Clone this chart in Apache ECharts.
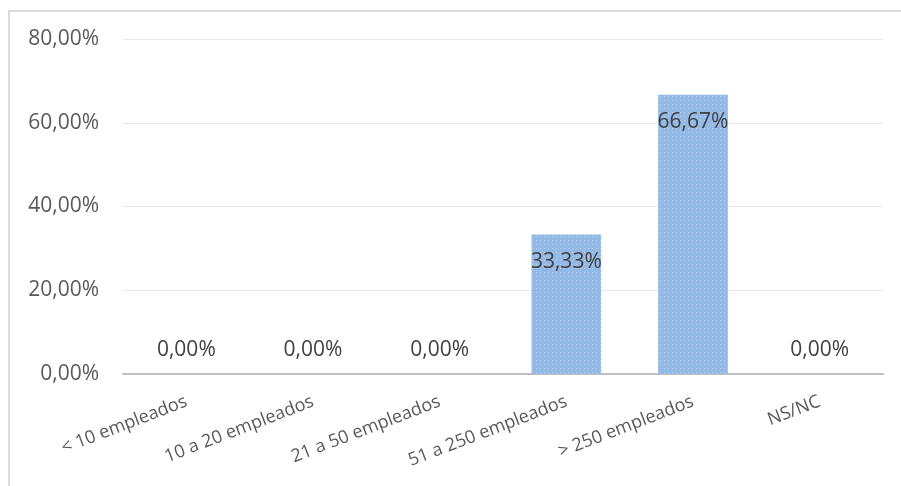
<!DOCTYPE html>
<html><head><meta charset="utf-8">
<script src="https://cdn.jsdelivr.net/npm/echarts@6/dist/echarts.min.js"></script>
<style>
html,body{margin:0;padding:0;background:#fff;}
#frame{position:absolute;left:8px;top:10px;width:900px;height:480px;border-top:2px solid #d9d9d9;border-left:2px solid #d9d9d9;}
#c{position:absolute;left:0;top:0;width:901px;height:486px;}
</style></head>
<body>
<div id="frame"></div>
<div id="c"></div>
<script>
const categories = ['< 10 empleados','10 a 20 empleados','21 a 50 empleados','51 a 250 empleados','> 250 empleados','NS/NC'];
const values = [0, 0, 0, 33.33, 66.67, 0];
const yTicks = [0, 20, 40, 60, 80];

const fmt = v => v.toFixed(2).replace('.', ',') + '%';
const chart = echarts.init(document.getElementById('c'), null, {renderer:'canvas'});
const font = 'Open Sans, sans-serif';
chart.setOption({
  animation:false,
  grid:{left:123,right:18,top:39,bottom:112,containLabel:false},
  xAxis:{type:'category',data:categories,
    axisLine:{lineStyle:{color:'#c0c0c0',width:2}},
    axisTick:{show:false},
    axisLabel:{rotate:21,color:'#595959',fontSize:18,fontFamily:font,margin:27,interval:0}
  },
  yAxis:{type:'value',min:yTicks[0],max:yTicks[yTicks.length-1],interval:20,
    axisLine:{show:false},axisTick:{show:false},
    splitLine:{lineStyle:{color:'#e8e8e8',width:1}},
    axisLabel:{color:'#595959',fontSize:21,fontFamily:font,margin:24,formatter:v=>fmt(v)}
  },
  series:[{type:'bar',barWidth:'55%',
    data: values.map(v=>({value:v,label: v>0 ? {position:'insideTop',distance:17} : {position:'top',distance:13}})),
    itemStyle:{color:'#93b9e6',decal:{symbol:'rect',symbolSize:1,color:'rgba(255,255,255,0.35)',dashArrayX:[[1,3]],dashArrayY:[1,3],rotation:0}},
    label:{show:true,color:'#404040',fontSize:21,fontFamily:font,formatter:p=>fmt(p.value)}
  }]
});
</script>
</body></html>
